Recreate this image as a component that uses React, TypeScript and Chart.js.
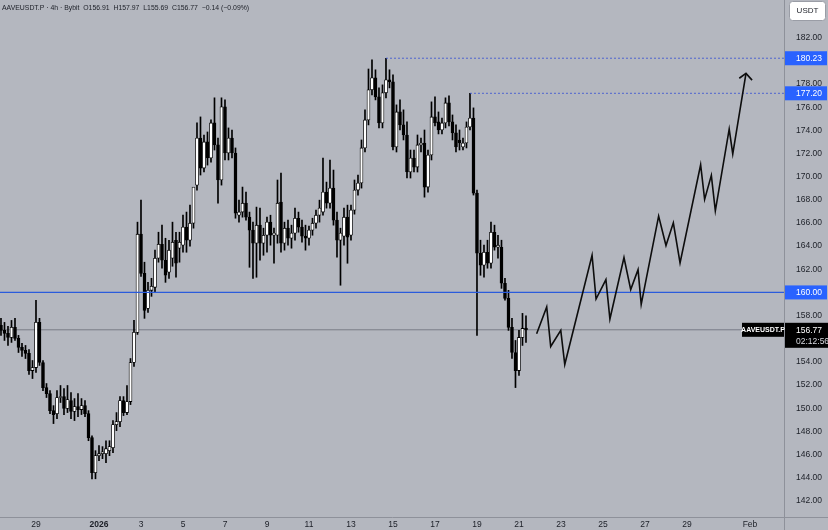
import React, { useEffect, useRef } from "react";
import { Chart, registerables } from "chart.js";

Chart.register(...registerables);

// ---- time axis (days since 2026-01-01 00:00) ----
const START_DAY = -14 / 3; // Dec 27 08:00
const CANDLE_DAYS = 1 / 6; // 4h
const X_MIN = -4.714;
const X_MAX = 32.62;
const TICK_DAYS = [-3, 0, 2, 4, 6, 8, 10, 12, 14, 16, 18, 20, 22, 24, 26, 28, 31];
const TICK_LABELS = ["29", "2026", "3", "5", "7", "9", "11", "13", "15", "17", "19", "21", "23", "25", "27", "29", "Feb"];

// ---- price axis ----
const Y_MIN = 140.6;
const Y_MAX = 185.26;
const PRICE_TICKS = [142, 144, 146, 148, 150, 152, 154, 156, 158, 160, 162, 164, 166, 168, 170, 172, 174, 176, 178, 180, 182];

// ---- AAVEUSDT.P 4h candles ----
const OPEN = [
  157.15, 156.72, 156.46, 156.11, 156.98, 156.03, 155.25, 154.99, 154.73, 153.25,
  153.51, 157.41, 153.95, 151.78, 151.26, 149.79, 149.53, 150.92, 151.0, 149.97,
  150.66, 149.71, 150.14, 149.88, 150.22, 149.53, 147.45, 144.42, 145.9, 146.07,
  146.07, 146.33, 146.59, 148.58, 148.84, 150.66, 149.62, 150.57, 153.95, 156.55,
  165.03, 161.65, 158.62, 160.18, 160.44, 162.95, 164.16, 162.78, 161.74, 162.95,
  164.51, 163.82, 164.08, 165.64, 164.51, 165.98, 169.27, 173.34, 170.74, 173.0,
  171.61, 174.64, 172.74, 169.71, 176.03, 172.04, 173.34, 172.04, 166.67, 166.94,
  167.71, 166.5, 165.38, 164.25, 165.81, 164.25, 164.94, 166.07, 164.94, 164.94,
  167.8, 164.25, 165.55, 164.68, 165.12, 166.41, 165.64, 164.86, 164.68, 165.38,
  165.98, 166.67, 166.94, 168.67, 167.71, 169.01, 166.24, 164.51, 164.86, 166.5,
  164.94, 167.11, 168.84, 169.45, 172.48, 174.9, 177.5, 178.54, 176.89, 174.64,
  177.24, 178.36, 178.19, 172.56, 175.59, 174.47, 173.6, 170.4, 171.61, 170.83,
  172.74, 172.91, 169.1, 171.87, 175.16, 174.73, 174.03, 174.64, 176.37, 174.73,
  173.78, 173.17, 172.56, 172.91, 174.29, 175.07, 168.58, 163.39, 162.35, 163.47,
  162.52, 165.2, 163.9, 163.9, 160.79, 159.49, 156.98, 154.81, 153.25, 156.11,
  156.91,
];
const HIGH = [
  157.76, 157.41, 157.06, 157.58, 157.76, 156.29, 155.6, 155.42, 155.07, 154.12,
  159.32, 157.76, 154.12, 152.13, 151.52, 150.22, 151.52, 151.96, 151.7, 151.96,
  151.35, 150.83, 151.26, 150.83, 150.66, 149.79, 147.62, 146.33, 146.76, 146.68,
  147.19, 147.19, 148.93, 149.62, 151.0, 151.0, 151.96, 154.29, 157.58, 166.07,
  167.97, 162.61, 160.87, 161.22, 163.65, 165.2, 165.81, 164.68, 164.51, 166.07,
  165.2, 165.2, 166.67, 166.94, 167.54, 168.41, 174.64, 175.16, 173.6, 173.86,
  174.9, 176.81, 173.34, 176.81, 176.63, 174.21, 174.03, 172.48, 167.97, 169.1,
  168.67, 166.94, 166.07, 167.37, 167.28, 165.55, 166.5, 166.67, 165.55, 169.71,
  170.31, 166.07, 166.24, 165.81, 167.28, 166.94, 166.24, 165.81, 165.72, 166.41,
  167.11, 167.97, 171.61, 169.53, 171.44, 170.57, 166.94, 165.55, 167.28, 167.54,
  167.54, 169.71, 170.14, 173.17, 175.77, 179.3, 180.1, 179.23, 177.67, 177.93,
  180.23, 179.23, 178.8, 176.2, 176.63, 175.77, 174.73, 172.3, 172.3, 173.6,
  173.34, 174.03, 172.3, 176.46, 176.9, 175.59, 175.07, 176.81, 176.98, 175.33,
  174.47, 174.03, 173.34, 174.73, 177.2, 175.94, 168.84, 164.51, 164.08, 164.51,
  166.07, 165.81, 164.94, 164.51, 161.22, 160.18, 157.76, 155.85, 156.72, 158.19,
  157.97,
];
const LOW = [
  156.29, 155.85, 155.42, 155.68, 155.85, 154.81, 154.47, 154.29, 152.91, 152.56,
  153.08, 153.69, 151.52, 150.92, 149.53, 148.67, 149.1, 150.49, 149.45, 149.62,
  149.1, 148.93, 149.27, 149.45, 149.27, 147.19, 143.9, 143.9, 145.46, 145.64,
  145.29, 145.9, 146.16, 148.06, 148.41, 149.36, 149.45, 150.31, 153.6, 156.37,
  161.39, 157.76, 158.28, 159.66, 160.01, 162.61, 162.09, 160.87, 161.22, 162.26,
  161.31, 162.61, 163.47, 163.47, 163.99, 165.55, 168.84, 170.14, 170.4, 171.0,
  171.26, 172.3, 167.71, 169.27, 171.44, 171.44, 171.61, 166.41, 166.07, 166.5,
  166.24, 162.17, 161.22, 161.31, 162.78, 163.21, 163.47, 164.08, 162.52, 164.25,
  163.47, 163.65, 164.08, 163.82, 164.51, 165.2, 164.34, 163.65, 164.08, 164.94,
  165.55, 166.07, 166.67, 167.28, 167.28, 165.81, 163.04, 160.62, 164.08, 162.52,
  164.51, 166.76, 168.41, 169.01, 172.13, 174.47, 177.07, 176.63, 174.21, 174.21,
  176.81, 177.67, 172.3, 172.13, 174.03, 173.17, 169.88, 169.88, 170.4, 170.4,
  172.13, 168.23, 168.67, 171.44, 174.38, 173.69, 173.69, 174.21, 174.38, 173.17,
  172.13, 172.3, 172.3, 172.48, 174.03, 168.41, 156.29, 161.48, 161.31, 162.09,
  162.09, 163.65, 162.95, 160.35, 159.32, 156.72, 154.29, 151.78, 152.82, 155.42,
  155.69,
];
const CLOSE = [
  156.72, 156.46, 156.11, 156.98, 156.03, 155.25, 154.99, 154.73, 153.25, 153.51,
  157.41, 153.95, 151.78, 151.26, 149.79, 149.45, 150.92, 151.0, 149.97, 150.75,
  149.71, 150.14, 149.88, 150.22, 149.53, 147.45, 144.42, 145.9, 146.07, 146.24,
  146.5, 146.68, 148.58, 148.84, 150.66, 149.62, 150.57, 153.95, 156.55, 165.03,
  161.65, 158.45, 160.18, 160.53, 162.95, 164.16, 162.78, 161.48, 163.65, 164.34,
  162.52, 164.34, 165.64, 164.51, 165.98, 169.1, 173.34, 170.74, 173.0, 171.61,
  174.64, 172.74, 169.71, 176.03, 172.04, 173.34, 172.04, 166.85, 166.94, 167.71,
  166.5, 165.38, 164.25, 165.81, 164.25, 164.94, 166.07, 164.94, 165.12, 167.71,
  164.25, 165.55, 164.68, 165.12, 166.41, 165.64, 164.86, 164.68, 165.38, 165.98,
  166.67, 167.28, 168.67, 167.71, 169.01, 166.24, 164.51, 165.12, 166.5, 164.77,
  167.11, 168.84, 169.45, 172.48, 174.9, 177.5, 178.54, 176.89, 174.64, 177.24,
  178.36, 178.19, 172.56, 175.59, 174.47, 173.6, 170.4, 171.61, 170.83, 172.74,
  172.91, 169.1, 171.87, 175.16, 174.64, 174.03, 174.64, 176.37, 174.73, 173.78,
  172.56, 172.91, 172.91, 174.29, 175.07, 168.58, 163.39, 162.35, 163.47, 162.52,
  165.2, 163.9, 164.08, 160.79, 159.49, 156.98, 154.81, 153.25, 156.11, 156.89,
  156.77,
];

// ---- levels / drawings ----
const SUPPORT_LEVEL = 160.0;
const LAST_PRICE = 156.77;
const HIGH_LEVELS = [180.23, 177.2];
const COUNTDOWN = "02:12:56";
const PROJ_DAYS = [20.84, 21.32, 21.51, 21.99, 22.18, 23.48, 23.67, 24.14, 24.33, 25.0, 25.32, 25.67, 25.82, 26.65, 27.0, 27.35, 27.67, 28.65, 28.84, 29.16, 29.35, 30.01, 30.18, 30.81];
const PROJ_PRICES = [156.43, 158.74, 155.33, 156.72, 153.77, 163.21, 159.43, 161.11, 157.7, 163.01, 160.24, 161.97, 158.97, 166.59, 164.05, 166.01, 162.55, 171.03, 168.03, 170.11, 167.05, 174.1, 171.96, 178.92];
const ARROW_DAYS = [30.49, 30.81, 31.1];
const ARROW_PRICES = [178.5, 178.92, 178.34];

const HEADER_PARTS = ["AAVEUSDT.P · 4h · Bybit", "O156.91", "H157.97", "L155.69", "C156.77", "−0.14 (−0.09%)"];

const BG = "#b4b7bf";
const FONT = '"Liberation Sans", Arial, sans-serif';
const TEXT = "#1c1f27";
const BLUE = "#2962ff";
const AXIS_LINE = "#8e919a";

export default function App() {
  const ref = useRef<HTMLCanvasElement>(null);

  useEffect(() => {
    document.body.style.margin = "0";
    const times = OPEN.map((_, i) => START_DAY + i * CANDLE_DAYS);
    const wicks = times.map((t, i) => ({ x: t, y: [LOW[i], HIGH[i]] }));
    const bodies = times.map((t, i) => ({
      x: t,
      y: [Math.min(OPEN[i], CLOSE[i]), Math.max(OPEN[i], CLOSE[i])],
    }));
    const bodyFill = OPEN.map((o, i) => (CLOSE[i] >= o ? "#ffffff" : "#000000"));

    const levelStart = HIGH_LEVELS.map((lv) => times[HIGH.indexOf(lv)]);

    const overlay = {
      id: "overlay",
      afterDraw(chart: any) {
        const { ctx, chartArea, scales, width, height } = chart;
        const ys = scales.y;
        const axL = chartArea.right;
        ctx.save();

        // extend axis borders into the corner
        ctx.strokeStyle = AXIS_LINE;
        ctx.lineWidth = 1;
        ctx.beginPath();
        ctx.moveTo(axL, chartArea.bottom + 0.5);
        ctx.lineTo(width, chartArea.bottom + 0.5);
        ctx.moveTo(axL + 0.5, chartArea.bottom);
        ctx.lineTo(axL + 0.5, height);
        ctx.stroke();

        // header
        const header = HEADER_PARTS.join("  ");
        ctx.font = `10px ${FONT}`;
        const w10 = ctx.measureText(header).width;
        const fs = (10 * 248) / w10;
        ctx.font = `${fs}px ${FONT}`;
        ctx.fillStyle = TEXT;
        ctx.textAlign = "left";
        ctx.textBaseline = "middle";
        ctx.fillText(header, 2, 8);

        // USDT box
        ctx.fillStyle = "#ffffff";
        ctx.strokeStyle = "#9a9da6";
        ctx.lineWidth = 1;
        ctx.beginPath();
        (ctx as any).roundRect(789.5, 1.5, 36, 19, 3);
        ctx.fill();
        ctx.stroke();
        ctx.fillStyle = TEXT;
        ctx.font = `8px ${FONT}`;
        ctx.textAlign = "center";
        ctx.fillText("USDT", 807.5, 11);

        // blue level badges
        const blueBadge = (v: number) => {
          const y = ys.getPixelForValue(v);
          ctx.fillStyle = BLUE;
          ctx.fillRect(axL + 1, y - 7, 42, 14);
          ctx.fillStyle = "#ffffff";
          ctx.font = `8.5px ${FONT}`;
          ctx.textAlign = "left";
          ctx.textBaseline = "middle";
          ctx.fillText(v.toFixed(2), 796, y + 0.5);
        };
        HIGH_LEVELS.forEach(blueBadge);
        blueBadge(SUPPORT_LEVEL);

        // last price badge + symbol badge
        const yp = ys.getPixelForValue(LAST_PRICE);
        ctx.fillStyle = "#000000";
        ctx.fillRect(axL + 1, yp - 7, 44, 25);
        ctx.fillRect(axL - 42, yp - 7, 42, 14);
        ctx.fillStyle = "#ffffff";
        ctx.font = `8.5px ${FONT}`;
        ctx.textAlign = "left";
        ctx.fillText(LAST_PRICE.toFixed(2), 796, yp + 0.5);
        ctx.fillStyle = "#d8dae0";
        ctx.fillText(COUNTDOWN, 796, yp + 11.5);
        ctx.fillStyle = "#ffffff";
        ctx.font = `bold 7px ${FONT}`;
        ctx.textAlign = "center";
        ctx.fillText("AAVEUSDT.P", axL - 21, yp + 0.5);
        ctx.restore();
      },
    };

    const chart = new Chart(ref.current!, {
      type: "bar",
      data: {
        datasets: [
          {
            type: "line",
            data: PROJ_DAYS.map((d, i) => ({ x: d, y: PROJ_PRICES[i] })),
            borderColor: "#0d0d0d",
            borderWidth: 1.6,
            pointRadius: 0,
            order: 0,
          } as any,
          {
            type: "line",
            data: ARROW_DAYS.map((d, i) => ({ x: d, y: ARROW_PRICES[i] })),
            borderColor: "#0d0d0d",
            borderWidth: 1.6,
            pointRadius: 0,
            order: 0,
          } as any,
          {
            type: "line",
            data: [{ x: X_MIN, y: SUPPORT_LEVEL }, { x: X_MAX, y: SUPPORT_LEVEL }],
            borderColor: "#2a5bdc",
            borderWidth: 1.3,
            pointRadius: 0,
            order: 0,
          } as any,
          {
            type: "line",
            data: [{ x: X_MIN, y: LAST_PRICE }, { x: X_MAX, y: LAST_PRICE }],
            borderColor: "rgba(110,114,125,0.85)",
            borderWidth: 1,
            pointRadius: 0,
            order: 3,
          } as any,
          ...HIGH_LEVELS.map((lv, k) => ({
            type: "line",
            data: [{ x: levelStart[k], y: lv }, { x: X_MAX, y: lv }],
            borderColor: "rgba(60,85,210,0.85)",
            borderWidth: 1,
            borderDash: [2, 2],
            pointRadius: 0,
            order: 0,
          })) as any,
          {
            type: "bar",
            data: wicks,
            backgroundColor: "#000000",
            barThickness: 1,
            grouped: false,
            order: 2,
          } as any,
          {
            type: "bar",
            data: bodies,
            backgroundColor: bodyFill,
            borderColor: "#000000",
            borderWidth: 0.8,
            borderSkipped: false,
            barThickness: 3,
            minBarLength: 1,
            grouped: false,
            order: 1,
          } as any,
        ],
      },
      options: {
        animation: false,
        responsive: true,
        maintainAspectRatio: false,
        events: [],
        layout: { padding: 0 },
        plugins: { legend: { display: false }, tooltip: { enabled: false }, title: { display: false } },
        scales: {
          x: {
            type: "linear",
            min: X_MIN,
            max: X_MAX,
            offset: false,
            grid: { display: false, drawTicks: false },
            border: { display: true, color: AXIS_LINE, width: 1 },
            afterBuildTicks: (s: any) => {
              s.ticks = TICK_DAYS.map((v) => ({ value: v }));
            },
            afterFit: (s: any) => {
              s.height = 13;
              s.paddingLeft = 0;
              s.paddingRight = 0;
            },
            ticks: {
              autoSkip: false,
              maxRotation: 0,
              padding: 3,
              color: TEXT,
              font: (c: any) => ({
                family: FONT,
                size: 8.5,
                weight: c.tick && c.tick.value === 0 ? "bold" : "normal",
              }),
              callback: (v: any) => {
                const k = TICK_DAYS.indexOf(Number(v));
                return k >= 0 ? TICK_LABELS[k] : "";
              },
            },
          },
          y: {
            type: "linear",
            position: "right",
            min: Y_MIN,
            max: Y_MAX,
            grid: { display: false, drawTicks: false },
            border: { display: true, color: AXIS_LINE, width: 1 },
            afterBuildTicks: (s: any) => {
              s.ticks = PRICE_TICKS.map((v) => ({ value: v }));
            },
            afterFit: (s: any) => {
              s.width = 44;
              s.paddingTop = 0;
              s.paddingBottom = 0;
            },
            ticks: {
              autoSkip: false,
              padding: 12,
              color: TEXT,
              font: { family: FONT, size: 8.5 },
              callback: (v: any) => Number(v).toFixed(2),
            },
          },
        },
      } as any,
      plugins: [overlay],
    });

    return () => chart.destroy();
  }, []);

  return (
    <div style={{ width: 828, height: 530, position: "relative", background: BG }}>
      <canvas ref={ref} />
    </div>
  );
}
